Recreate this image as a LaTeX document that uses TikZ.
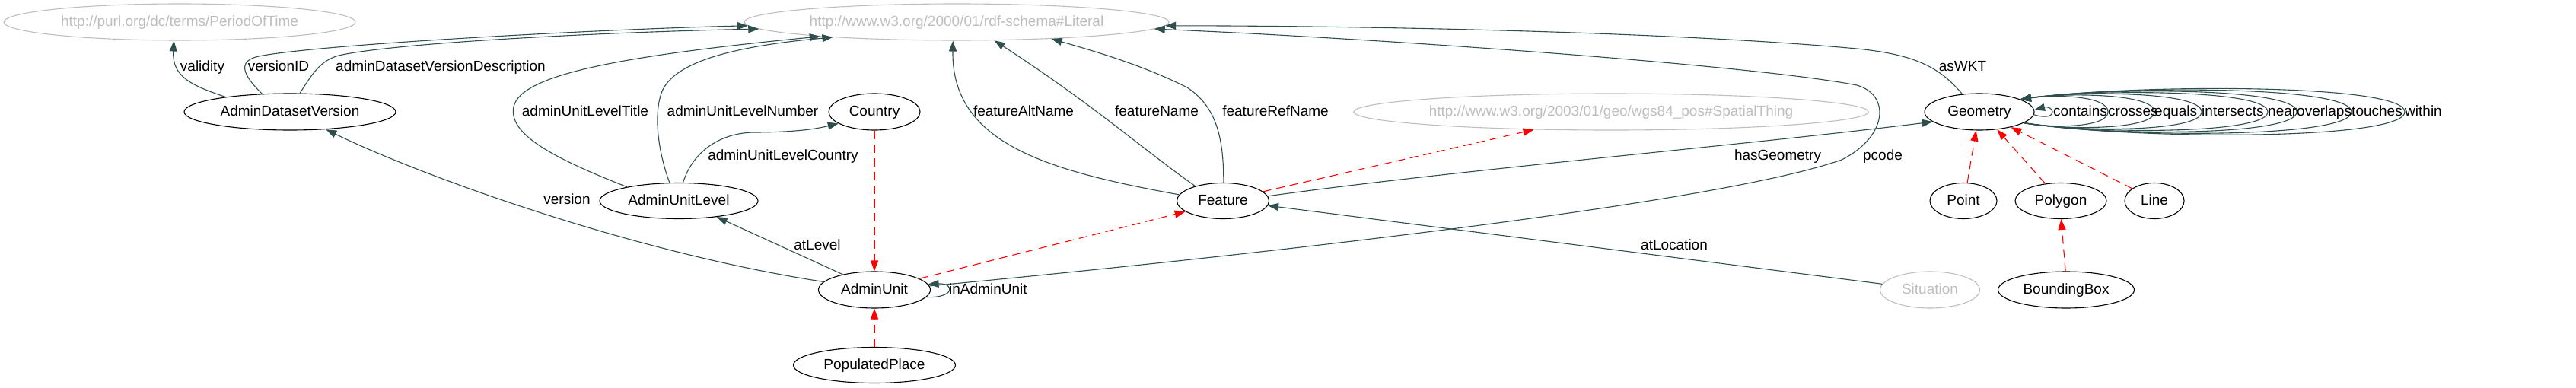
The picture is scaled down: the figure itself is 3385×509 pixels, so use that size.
\documentclass[tikz,border=0pt]{standalone}
\usepackage{fontspec}
\setmainfont{Liberation Sans}
\usetikzlibrary{shapes.geometric,arrows.meta}
\definecolor{edgec}{RGB}{47,79,79}
\definecolor{greyc}{RGB}{190,190,190}
\begin{document}
\begin{tikzpicture}[x=1pt,y=-1pt,
  every node/.style={font=\fontsize{19}{22}\selectfont, text height=14pt, text depth=4pt},
  cls/.style={ellipse, draw=black, line width=1.1pt, inner sep=0pt, text=black},
  ext/.style={ellipse, draw=greyc, line width=1.1pt, inner sep=0pt, text=greyc},
  rel/.style={draw=edgec, line width=1.1pt, -{Triangle[length=14pt,width=10pt]}},
  sub/.style={draw=red, line width=1.1pt, dash pattern=on 11pt off 7pt, -{Triangle[length=14pt,width=10pt]}},
  lbl/.style={inner sep=0pt, text=black},
]
\useasboundingbox (0,0) rectangle (3385,509);

% nodes
\node[ext, minimum width=462pt, minimum height=48pt] (pot) at (236,29) {http://purl.org/dc/terms/PeriodOfTime};
\node[ext, minimum width=558pt, minimum height=48pt] (lit) at (1257,29) {http://www.w3.org/2000/01/rdf-schema\#Literal};
\node[cls, minimum width=278pt, minimum height=48pt] (adv) at (381,147) {AdminDatasetVersion};
\node[cls, minimum width=120pt, minimum height=48pt] (country) at (1149,147) {Country};
\node[ext, minimum width=675pt, minimum height=48pt] (spatial) at (2117,147) {http://www.w3.org/2003/01/geo/wgs84\_pos\#SpatialThing};
\node[cls, minimum width=144pt, minimum height=48pt] (geom) at (2601,147) {Geometry};
\node[cls, minimum width=208pt, minimum height=47pt] (aul) at (892,264) {AdminUnitLevel};
\node[cls, minimum width=121pt, minimum height=47pt] (feature) at (1607,264) {Feature};
\node[cls, minimum width=88pt, minimum height=47pt] (point) at (2580,264) {Point};
\node[cls, minimum width=120pt, minimum height=47pt] (polygon) at (2708,264) {Polygon};
\node[cls, minimum width=78pt, minimum height=47pt] (nline) at (2831,264) {Line};
\node[cls, minimum width=147pt, minimum height=48pt] (au) at (1149,381) {AdminUnit};
\node[ext, minimum width=131pt, minimum height=48pt] (situation) at (2536,381) {Situation};
\node[cls, minimum width=179pt, minimum height=48pt] (bbox) at (2715,381) {BoundingBox};
\node[cls, minimum width=213pt, minimum height=47pt] (pp) at (1149,480) {PopulatedPlace};

% property edges
\draw[rel] (adv.167) .. controls (250,112) and (226,100) .. (pot.-107);
\draw[rel] (adv.147) .. controls (318,98) and (312,80) .. (340,74) .. controls (420,58) and (800,38) .. (lit.-179.2);
\draw[rel] (adv.62) .. controls (410,98) and (420,80) .. (445,73) .. controls (520,56) and (800,42) .. (lit.-178.6);
\draw[rel] (aul.165) .. controls (720,205) and (668,175) .. (675,140) .. controls (685,100) and (800,75) .. (lit.-174);
\draw[rel] (aul.117) .. controls (865,200) and (858,150) .. (870,120) .. controls (885,85) and (950,62) .. (lit.-173);
\draw[rel] (aul.77) .. controls (910,200) and (945,175) .. (990,174) .. controls (1040,174) and (1070,170) .. (country.-162);
\draw[rel] (au.154) -- (aul.-23);
\draw[rel] (au.171) .. controls (820,330) and (540,225) .. (adv.-26);
\draw[rel] (au.-8) .. controls (1255,392) and (1255,372) .. (au.6);
\draw[rel] (au.4) .. controls (1600,340) and (2250,270) .. (2420,210) .. controls (2480,180) and (2485,125) .. (2440,112) .. controls (2300,85) and (1800,50) .. (lit.-2.7);
\draw[rel] (geom.134) .. controls (2550,90) and (2520,72) .. (2440,64) .. controls (2200,42) and (1800,34) .. (lit.-1);
\draw[rel] (feature.172) .. controls (1380,225) and (1250,190) .. (lit.-101);
\draw[rel] (feature.152) .. controls (1500,195) and (1440,140) .. (lit.-26);
\draw[rel] (feature.88) .. controls (1608,180) and (1598,140) .. (1560,115) .. controls (1500,85) and (1440,68) .. (lit.-10);
\draw[rel] (feature.6) .. controls (1900,225) and (2300,190) .. (geom.-168);
\draw[rel] (situation.173) -- (feature.-6);

% geometry self loops
\draw[rel] (geom.-3) .. controls (2690,156) and (2697,152) .. (2697,147) .. controls (2697,142) and (2690,140) .. (geom.2);
\foreach \X/\B/\T/\C in {2770/168.5/124.5/2693, 2831/171.2/122.1/2711, 2893/173.8/119.7/2730, 2980/176.5/117.3/2756, 3018/179.2/114.8/2767, 3090/181.8/112.4/2789, 3160/184.5/110/2810}
  \draw[rel] (geom.-14) .. controls (\C,\B) and (\X,\B) .. (\X,147) .. controls (\X,\T) and (\C,\T) .. (geom.17);

% subclass edges
\draw[sub] (country.south) -- (au.north);
\draw[sub] (pp.north) -- (au.south);
\draw[sub] (au.14.5) -- (feature.-164);
\draw[sub] (feature.13) -- (spatial.-167.6);
\draw[sub] (point.78) -- (geom.-100);
\draw[sub] (polygon.132) -- (geom.-45);
\draw[sub] (nline.151) -- (geom.-26);
\draw[sub] (bbox.92) -- (polygon.-89);

% labels
\node[lbl] (l1) at (266,88) {validity};
\node[lbl] (l2) at (366,88) {versionID};
\node[lbl] (l3) at (579,88) {adminDatasetVersionDescription};
\node[lbl] (l4) at (769,147) {adminUnitLevelTitle};
\node[lbl] (l5) at (976,147) {adminUnitLevelNumber};
\node[lbl] (l6) at (1029,205) {adminUnitLevelCountry};
\node[lbl] (l7) at (745,263) {version};
\node[lbl] (l8) at (1074,323) {atLevel};
\node[lbl, anchor=west] (l9) at (1247,381) {inAdminUnit};
\node[lbl] (l10) at (1345,147) {featureAltName};
\node[lbl] (l11) at (1520,147) {featureName};
\node[lbl] (l12) at (1676,147) {featureRefName};
\node[lbl] (l13) at (2336,205) {hasGeometry};
\node[lbl] (l14) at (2474,205) {pcode};
\node[lbl] (l15) at (2579,88) {asWKT};
\node[lbl] (l16) at (2200,323) {atLocation};
\node[lbl, anchor=west] (g1) at (2698,147) {contains};
\node[lbl, anchor=west] (g2) at (2770,147) {crosses};
\node[lbl, anchor=west] (g3) at (2831,147) {equals};
\node[lbl, anchor=west] (g4) at (2893,147) {intersects};
\node[lbl, anchor=west] (g5) at (2980,147) {near};
\node[lbl, anchor=west] (g6) at (3018,147) {overlaps};
\node[lbl, anchor=west] (g7) at (3090,147) {touches};
\node[lbl, anchor=west] (g8) at (3160,147) {within};
\end{tikzpicture}
\end{document}
